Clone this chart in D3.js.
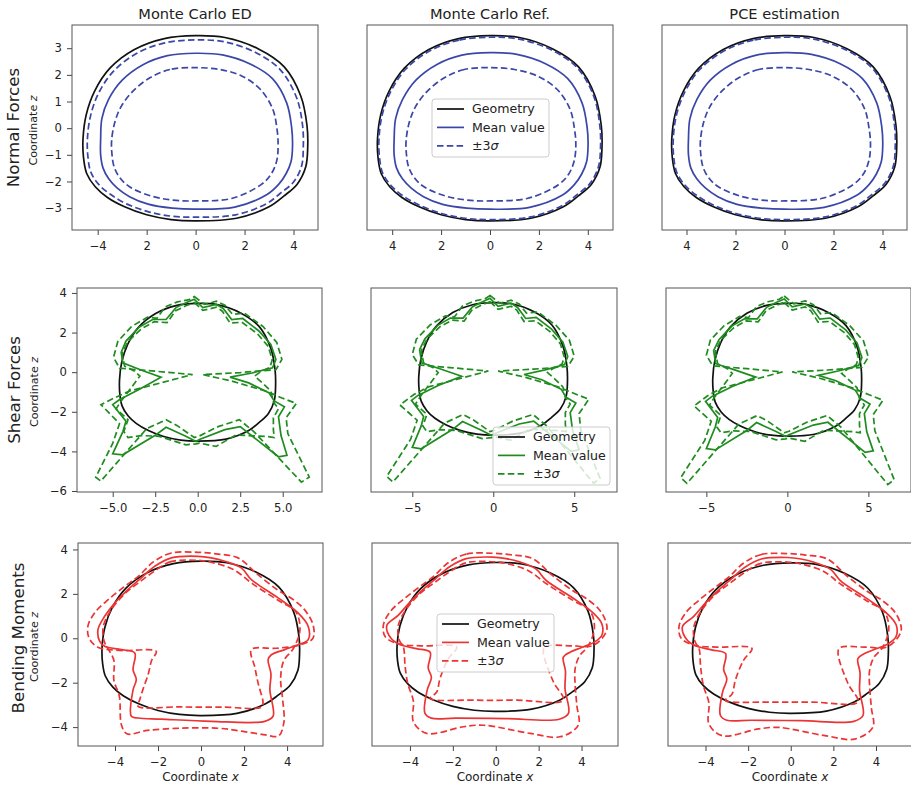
<!DOCTYPE html>
<html>
<head>
<meta charset="utf-8">
<script src="https://cdnjs.cloudflare.com/ajax/libs/d3/7.8.5/d3.min.js"></script>
<style>
  body { margin: 0; background: #fff; }
  text { font-family: "DejaVu Sans", sans-serif; fill: #222; }
</style>
</head>
<body>
<div id="chart"></div>
<script>
// column / row titles
var colTitles = ["Monte Carlo ED", "Monte Carlo Ref.", "PCE estimation"];
var rowTitles = ["Normal Forces", "Shear Forces", "Bending Moments"];
var legendLabels = ["Geometry", "Mean value", "±3"];

// tick values and labels (as printed in the picture)
var xTicksN = [-4, -2, 0, 2, 4];
var xLabelsN_ED = ["−4", "2", "0", "2", "4"];
var xLabelsN_Ref = ["4", "2", "0", "2", "4"];
var xTicksS_ED = [-5, -2.5, 0, 2.5, 5];
var xLabelsS_ED = ["−5.0", "−2.5", "0.0", "2.5", "5.0"];
var xTicksS = [-5, 0, 5];
var xLabelsS = ["−5", "0", "5"];
var xTicksM = [-4, -2, 0, 2, 4];
var xLabelsM = ["−4", "−2", "0", "2", "4"];
var yTicksN = [-3, -2, -1, 0, 1, 2, 3];
var yTicksS = [-6, -4, -2, 0, 2, 4];
var yTicksM = [-4, -2, 0, 2, 4];

// tunnel geometry [x, z]
var geometry = [[0,3.47],[-1.28,3.36],[-2.5,2.95],[-3.5,2.25],[-4.12,1.4],[-4.47,0.5],[-4.6,-0.4],[-4.58,-1.1],
  [-4.45,-1.7],[-4.1,-2.2],[-3.6,-2.6],[-2.9,-2.95],[-2.0,-3.25],[-1,-3.43],[0,-3.48],[1.67,-3.38],[3.0,-2.95],
  [3.6,-2.55],[4.15,-2.1],[4.5,-1.45],[4.58,-0.7],[4.55,0.1],[4.3,1.2],[3.62,2.3],[2.55,2.98],[1.2,3.4]];

// normal forces
var nMeanED = [[0,2.81],[-1.15,2.72],[-2.15,2.38],[-3.0,1.8],[-3.56,1.07],[-3.83,0.36],[-3.88,-0.43],
  [-3.88,-1.0],[-3.78,-1.5],[-3.55,-1.9],[-3.2,-2.25],[-2.7,-2.57],[-1.94,-2.85],[-0.95,-3.0],[0,-3.04],
  [1.6,-2.96],[2.9,-2.5],[3.4,-2.1],[3.7,-1.7],[3.9,-1.25],[3.96,-0.65],[3.92,0.05],[3.72,0.95],[3.15,1.85],
  [2.25,2.4],[1.1,2.75]];
var nLoED = [[0,2.27],[-1.05,2.2],[-1.85,1.9],[-2.55,1.4],[-3.05,0.8],[-3.3,0.22],[-3.43,-0.45],[-3.42,-0.95],
  [-3.33,-1.45],[-3.1,-1.85],[-2.7,-2.2],[-1.8,-2.55],[-0.92,-2.7],[0,-2.73],[1.5,-2.63],[2.7,-2.1],
  [3.1,-1.7],[3.32,-1.2],[3.37,-0.6],[3.32,0],[3.15,0.72],[2.65,1.45],[1.9,1.95],[1.0,2.2]];
var nHiED = [[0,3.31],[-1.25,3.2],[-2.4,2.81],[-3.36,2.13],[-3.96,1.32],[-4.29,0.47],[-4.42,-0.4],[-4.4,-1.07],
  [-4.28,-1.65],[-3.95,-2.12],[-3.45,-2.5],[-2.8,-2.85],[-1.95,-3.13],[-1,-3.3],[0,-3.34],[1.64,-3.25],
  [2.9,-2.83],[3.45,-2.45],[4.0,-2.02],[4.33,-1.42],[4.4,-0.68],[4.37,0.1],[4.13,1.13],[3.48,2.17],[2.47,2.83],
  [1.17,3.24]];
var nMeanRef = [[0,2.83],[-1.15,2.74],[-2.15,2.4],[-3.02,1.81],[-3.58,1.07],[-3.86,0.36],[-3.92,-0.43],
  [-3.92,-1.0],[-3.82,-1.5],[-3.58,-1.9],[-3.22,-2.25],[-2.72,-2.57],[-1.94,-2.86],[-0.95,-3.0],[0,-3.04],
  [1.62,-2.97],[2.95,-2.52],[3.45,-2.12],[3.75,-1.72],[3.95,-1.26],[4.01,-0.65],[3.97,0.05],[3.76,0.96],
  [3.18,1.86],[2.27,2.42],[1.1,2.77]];
var nLoRef = [[0,2.27],[-1.05,2.2],[-1.85,1.9],[-2.55,1.4],[-3.05,0.8],[-3.3,0.22],[-3.43,-0.45],[-3.42,-0.95],
  [-3.33,-1.45],[-3.1,-1.85],[-2.7,-2.2],[-1.8,-2.55],[-0.92,-2.7],[0,-2.73],[1.55,-2.63],[2.8,-2.12],
  [3.22,-1.72],[3.45,-1.2],[3.51,-0.6],[3.45,0],[3.27,0.72],[2.75,1.45],[1.95,1.95],[1.0,2.2]];
var nHiRef = [[0,3.41],[-1.27,3.3],[-2.46,2.9],[-3.45,2.21],[-4.06,1.37],[-4.41,0.49],[-4.54,-0.4],[-4.52,-1.09],
  [-4.39,-1.68],[-4.04,-2.16],[-3.54,-2.55],[-2.86,-2.9],[-1.98,-3.2],[-1,-3.38],[0,-3.43],[1.66,-3.33],
  [2.96,-2.9],[3.55,-2.5],[4.1,-2.06],[4.44,-1.43],[4.52,-0.7],[4.49,0.1],[4.25,1.18],[3.57,2.26],[2.52,2.93],
  [1.19,3.34]];

// shear forces
var sMeanED = [[-0.2,3.68],[0.3,3.26],[1.1,3.42],[1.5,3.22],[2.0,2.66],[2.65,2.71],[3.6,2.08],[4.3,1.4],
  [4.6,0.64],[4.4,0.22],[3.2,-0.04],[1.9,-0.25],[3.0,-0.54],[4.2,-1.05],[4.5,-1.45],[5.1,-1.75],[4.75,-2.25],
  [4.9,-3.2],[5.25,-4.2],[4.75,-4.27],[2.5,-2.75],[1.6,-2.9],[0.1,-3.4],[-0.1,-3.5],[-0.7,-3.24],[-1.86,-2.78],
  [-2.45,-3.16],[-4.41,-4.17],[-5.0,-4.12],[-4.4,-3.0],[-4.22,-2.48],[-5.0,-1.64],[-4.61,-1.39],[-3.4,-0.85],
  [-2.16,-0.25],[-3.3,0.1],[-4.41,0.47],[-4.5,1.0],[-4.22,1.57],[-3.43,2.28],[-2.65,2.66],[-1.86,2.66],
  [-1.28,3.26],[-0.69,3.51]];
var sHiED = [[-0.2,3.82],[0.4,3.42],[1.1,3.58],[1.6,3.38],[2.05,2.92],[2.75,2.98],[3.85,2.3],[4.65,1.5],
  [4.95,0.65],[4.6,0.12],[2.5,-0.02],[0.3,-0.12],[2.0,-0.45],[4.0,-0.95],[4.95,-1.3],[5.8,-1.58],[5.2,-2.3],
  [5.3,-3.1],[6.56,-5.3],[6.1,-5.55],[3.3,-3.0],[2.45,-2.4],[1.2,-2.75],[0.1,-3.22],[-0.2,-3.3],[-1.2,-2.7],
  [-1.86,-2.4],[-3.0,-2.85],[-5.7,-5.5],[-6.0,-5.3],[-5.0,-3.6],[-4.6,-2.6],[-5.69,-1.64],[-4.9,-1.3],
  [-4.0,-0.95],[-0.3,-0.12],[-2.5,0.05],[-4.6,0.2],[-4.95,0.75],[-4.7,1.55],[-3.9,2.3],[-2.95,2.78],
  [-2.4,2.72],[-1.9,3.3],[-1.2,3.55],[-0.5,3.66]];
var sLoED = [[-0.2,3.52],[0.3,3.12],[1.1,3.28],[1.45,3.08],[1.9,2.48],[2.6,2.52],[3.5,1.95],[4.15,1.3],
  [4.38,0.62],[4.25,0.25],[3.7,0.02],[3.35,-0.2],[3.75,-0.5],[4.3,-0.95],[4.45,-1.5],[4.75,-1.85],[4.45,-2.3],
  [4.45,-2.9],[4.5,-3.3],[4.1,-3.25],[2.25,-3.17],[1.08,-3.75],[0.1,-3.58],[-0.1,-3.62],[-0.69,-3.67],
  [-2.26,-3.24],[-3.3,-3.2],[-4.1,-3.3],[-4.35,-3.0],[-4.1,-2.4],[-4.8,-1.85],[-4.5,-1.45],[-4.1,-1.0],
  [-3.4,-0.2],[-3.7,0.05],[-4.3,0.3],[-4.45,0.95],[-4.1,1.55],[-3.3,2.2],[-2.55,2.55],[-1.8,2.5],
  [-1.3,3.1],[-0.7,3.35]];
var sMeanRef = [[-0.2,3.7],[0.3,3.28],[1.1,3.44],[1.5,3.22],[2.0,2.64],[2.65,2.7],[3.6,2.08],[4.3,1.4],
  [4.6,0.64],[4.4,0.22],[3.2,-0.06],[1.9,-0.3],[3.0,-0.58],[4.2,-1.08],[4.5,-1.5],[5.1,-1.8],[4.75,-2.3],
  [4.9,-3.25],[5.3,-4.25],[4.8,-4.33],[2.5,-2.75],[1.6,-2.9],[0.1,-3.4],[-0.1,-3.5],[-0.7,-3.24],[-1.9,-2.77],
  [-2.5,-3.18],[-4.45,-4.2],[-5.0,-4.13],[-4.45,-3.0],[-4.3,-2.5],[-5.05,-1.66],[-4.65,-1.4],[-3.4,-0.88],
  [-1.95,-0.39],[-3.3,0.0],[-4.42,0.31],[-4.55,1.0],[-4.22,1.57],[-3.43,2.28],[-2.65,2.66],[-1.86,2.66],
  [-1.28,3.26],[-0.69,3.51]];
var sHiRef = [[-0.2,3.85],[0.4,3.44],[1.1,3.6],[1.6,3.4],[2.05,2.92],[2.75,2.98],[3.85,2.3],[4.7,1.5],
  [5.0,0.65],[4.6,0.12],[2.5,-0.02],[0.3,-0.12],[2.0,-0.45],[4.0,-0.95],[5.0,-1.3],[5.9,-1.6],[5.3,-2.35],
  [5.4,-3.2],[6.59,-5.75],[6.2,-6.01],[3.3,-3.0],[2.45,-2.4],[1.2,-2.75],[0.1,-3.22],[-0.2,-3.3],[-1.2,-2.7],
  [-1.86,-2.4],[-3.0,-2.85],[-6.2,-5.95],[-6.58,-5.65],[-5.1,-3.7],[-4.7,-2.7],[-5.76,-1.9],[-4.9,-1.35],
  [-4.0,-0.95],[-0.3,-0.12],[-2.5,0.05],[-4.6,0.2],[-5.0,0.75],[-4.75,1.55],[-3.9,2.3],[-2.95,2.78],
  [-2.4,2.72],[-1.9,3.3],[-1.2,3.55],[-0.5,3.68]];
var sLoRef = sLoED;

// bending moments
var mMeanED = [[-0.14,3.69],[-1.38,3.62],[-2.15,3.24],[-2.8,2.7],[-3.4,2.19],[-4.0,1.6],[-4.48,0.99],
  [-4.79,0.39],[-4.71,-0.14],[-4.48,-0.36],[-3.71,-0.51],[-3.08,-0.66],[-3.16,-1.41],[-3.01,-1.86],
  [-3.16,-2.32],[-3.24,-3.51],[-2.93,-3.59],[-1.85,-3.64],[0.48,-3.74],[2.96,-3.74],[3.35,-3.51],
  [3.2,-2.32],[3.25,-1.6],[3.12,-0.96],[3.27,-0.74],[3.89,-0.51],[4.51,-0.29],[4.98,-0.06],[4.98,0.54],
  [4.51,1.14],[3.58,1.82],[2.34,2.64],[1.87,3.17],[1.1,3.47],[0.48,3.62]];
var mHiED = [[-0.14,3.87],[-1.38,3.84],[-2.2,3.45],[-2.9,2.8],[-3.6,2.3],[-4.3,1.75],[-4.9,1.2],[-5.26,0.55],
  [-5.2,0.0],[-4.8,-0.4],[-3.8,-0.55],[-2.08,-0.59],[-2.3,-1.0],[-2.45,-1.6],[-2.7,-2.3],[-2.85,-2.77],
  [-2.93,-3.06],[-1.07,-3.09],[1.0,-3.1],[2.8,-3.1],[2.88,-2.91],[2.65,-2.01],[2.5,-1.3],[2.34,-0.51],
  [3.5,-0.45],[4.6,-0.3],[5.2,0.0],[5.21,0.6],[4.8,1.3],[4.2,1.8],[3.6,2.15],[2.6,2.9],[1.72,3.62],[0.7,3.8]];
var mLoED = [[0,3.5],[-1.4,3.45],[-2.2,3.0],[-2.9,2.5],[-3.5,2.05],[-4.2,1.25],[-4.55,0.5],[-4.5,-0.15],
  [-4.3,-0.5],[-4.05,-1.0],[-4.05,-1.9],[-3.8,-2.6],[-3.7,-3.9],[-3.45,-4.3],[-2.5,-4.15],[-1.0,-4.05],
  [0.8,-4.05],[2.0,-4.2],[3.0,-4.35],[3.6,-4.4],[3.85,-3.8],[3.8,-2.8],[3.7,-1.8],[3.85,-1.0],[4.3,-0.45],
  [4.6,0.4],[4.4,1.2],[3.6,1.7],[2.4,2.45],[1.5,3.1],[0.5,3.42]];
var mMeanRef = [[-0.14,3.72],[-1.38,3.65],[-2.15,3.27],[-2.8,2.72],[-3.4,2.2],[-4.0,1.62],[-4.55,1.0],
  [-5.08,0.53],[-4.9,-0.05],[-4.5,-0.35],[-3.71,-0.55],[-3.06,-0.72],[-3.15,-1.45],[-3.0,-1.9],[-3.2,-2.5],
  [-3.3,-3.58],[-3.0,-3.8],[-1.85,-3.8],[0.48,-3.82],[2.96,-3.85],[3.39,-3.58],[3.23,-2.42],[3.25,-1.6],
  [3.15,-0.95],[3.46,-0.72],[4.0,-0.5],[4.6,-0.25],[4.94,0.06],[4.95,0.6],[4.51,1.14],[3.58,1.82],
  [2.34,2.64],[1.87,3.17],[1.1,3.5],[0.48,3.65]];
var mHiRef = [[-0.14,3.9],[-1.38,3.86],[-2.2,3.47],[-2.9,2.82],[-3.6,2.3],[-4.3,1.75],[-4.9,1.2],[-5.24,0.55],
  [-5.15,0.0],[-4.54,-0.33],[-3.5,-0.42],[-1.82,-0.48],[-2.21,-1.02],[-2.6,-1.95],[-2.75,-2.58],[-3.06,-2.88],
  [-1.0,-2.96],[1.0,-2.96],[3.15,-2.96],[2.69,-2.11],[2.22,-0.72],[2.3,-0.45],[3.5,-0.42],[4.55,-0.4],
  [5.17,0.29],[5.1,0.8],[4.8,1.3],[4.2,1.8],[3.6,2.15],[2.6,2.9],[1.72,3.65],[0.7,3.83]];
var mLoRef = [[0,3.5],[-1.4,3.45],[-2.2,3.0],[-2.9,2.5],[-3.5,2.05],[-4.2,1.25],[-4.55,0.5],[-4.5,-0.15],
  [-4.3,-0.5],[-4.23,-1.33],[-4.1,-2.2],[-3.84,-3.0],[-3.84,-3.97],[-3.22,-4.51],[-1.5,-4.2],[-0.58,-4.13],
  [1.6,-4.51],[3.0,-4.67],[3.85,-4.13],[3.78,-3.2],[3.7,-2.2],[3.7,-1.5],[3.9,-0.9],[4.3,-0.45],[4.6,0.4],
  [4.4,1.2],[3.6,1.7],[2.4,2.45],[1.5,3.1],[0.5,3.42]];

var W = 911, H = 786;
var rowColors = ["#3a46a8", "#1f8c1f", "#ec3434"];
var dash = "6.5,3.3";

// panel layout: box = [left, right, top, bottom] in px
var panels = [
  { row: 0, col: 0, box: [72, 318, 25, 230], xDom: [-5.05, 5.0], zDom: [-3.82, 3.87], xTicks: xTicksN, xLabels: xLabelsN_ED, yTicks: yTicksN, curves: [nMeanED, nLoED, nHiED], smooth: true },
  { row: 0, col: 1, box: [367, 613, 25, 230], xDom: [-5.03, 5.03], zDom: [-3.82, 3.87], xTicks: xTicksN, xLabels: xLabelsN_Ref, curves: [nMeanRef, nLoRef, nHiRef], smooth: true, legend: [432, 99] },
  { row: 0, col: 2, box: [662, 907, 25, 230], xDom: [-5.0, 5.0], zDom: [-3.82, 3.87], xTicks: xTicksN, xLabels: xLabelsN_Ref, curves: [nMeanRef, nLoRef, nHiRef], smooth: true },
  { row: 1, col: 0, box: [77, 322, 288, 492], xDom: [-7.1, 7.31], zDom: [-6.05, 4.25], xTicks: xTicksS_ED, xLabels: xLabelsS_ED, yTicks: yTicksS, curves: [sMeanED, sLoED, sHiED], smooth: false },
  { row: 1, col: 1, box: [371, 617, 288, 492], xDom: [-7.55, 7.64], zDom: [-6.47, 4.24], xTicks: xTicksS, xLabels: xLabelsS, curves: [sMeanRef, sLoRef, sHiRef], smooth: false, legend: [493, 427] },
  { row: 1, col: 2, box: [666, 911, 288, 492], xDom: [-7.49, 7.63], zDom: [-6.4, 4.27], xTicks: xTicksS, xLabels: xLabelsS, curves: [sMeanRef, sLoRef, sHiRef], smooth: false },
  { row: 2, col: 0, box: [78, 323, 543, 746], xDom: [-5.72, 5.67], zDom: [-4.85, 4.29], xTicks: xTicksM, xLabels: xLabelsM, yTicks: yTicksM, curves: [mMeanED, mLoED, mHiED], smooth: true },
  { row: 2, col: 1, box: [372, 618, 543, 746], xDom: [-5.77, 5.7], zDom: [-5.1, 4.38], xTicks: xTicksM, xLabels: xLabelsM, curves: [mMeanRef, mLoRef, mHiRef], smooth: true, legend: [437, 614] },
  { row: 2, col: 2, box: [668, 912, 543, 746], xDom: [-5.76, 5.69], zDom: [-4.99, 4.39], xTicks: xTicksM, xLabels: xLabelsM, curves: [mMeanRef, mLoRef, mHiRef], smooth: true }
];

var rowLabelPos = [[13.5, 127.5, 33, 130.5], [14.5, 390, 34, 392], [18.5, 638, 34, 647]];

document.addEventListener('DOMContentLoaded', function () {
    var svg = d3.select("#chart").append("svg")
        .attr("width", W)
        .attr("height", H);

    panels.forEach(function (p, i) { drawPanel(svg, p, i); });

    // column titles
    colTitles.forEach(function (t, c) {
        var b = panels[c].box;
        svg.append("text")
            .attr("x", (b[0] + b[1]) / 2)
            .attr("y", 19)
            .attr("text-anchor", "middle")
            .style("font-size", "14.6px")
            .text(t);
    });

    // row labels
    rowTitles.forEach(function (t, r) {
        var pos = rowLabelPos[r];
        svg.append("text")
            .attr("transform", "translate(" + pos[0] + "," + pos[1] + ") rotate(-90)")
            .attr("text-anchor", "middle")
            .attr("dy", "0.35em")
            .style("font-size", "16.7px")
            .text(t);
        var yl = svg.append("text")
            .attr("transform", "translate(" + pos[2] + "," + pos[3] + ") rotate(-90)")
            .attr("text-anchor", "middle")
            .attr("dy", "0.35em")
            .style("font-size", "11.1px");
        yl.append("tspan").text("Coordinate ");
        yl.append("tspan").style("font-style", "italic").text("z");
    });

    // x labels on the bottom row
    panels.filter(function (p) { return p.row === 2; }).forEach(function (p) {
        var xl = svg.append("text")
            .attr("x", (p.box[0] + p.box[1]) / 2)
            .attr("y", 781)
            .attr("text-anchor", "middle")
            .style("font-size", "12px");
        xl.append("tspan").text("Coordinate ");
        xl.append("tspan").style("font-style", "italic").text("x");
    });
});

function drawPanel(svg, p, i) {
    var b = p.box;
    var color = rowColors[p.row];
    var x = d3.scaleLinear().domain(p.xDom).range([b[0], b[1]]);
    var y = d3.scaleLinear().domain(p.zDom).range([b[3], b[2]]);

    svg.append("clipPath").attr("id", "clip" + i)
        .append("rect")
        .attr("x", b[0]).attr("y", b[2])
        .attr("width", b[1] - b[0]).attr("height", b[3] - b[2]);

    var g = svg.append("g").attr("clip-path", "url(#clip" + i + ")");

    var smoothLine = d3.line()
        .x(function (d) { return x(d[0]); })
        .y(function (d) { return y(d[1]); })
        .curve(d3.curveCatmullRomClosed.alpha(0.5));
    var dataLine = p.smooth ? smoothLine : d3.line()
        .x(function (d) { return x(d[0]); })
        .y(function (d) { return y(d[1]); })
        .curve(d3.curveLinearClosed);

    g.append("path")
        .attr("d", smoothLine(geometry))
        .attr("fill", "none")
        .attr("stroke", "#111")
        .attr("stroke-width", 1.7);

    g.append("path")
        .attr("d", dataLine(p.curves[0]))
        .attr("fill", "none")
        .attr("stroke", color)
        .attr("stroke-width", 1.7);

    [p.curves[1], p.curves[2]].forEach(function (c) {
        g.append("path")
            .attr("d", dataLine(c))
            .attr("fill", "none")
            .attr("stroke", color)
            .attr("stroke-width", 1.7)
            .attr("stroke-dasharray", dash);
    });

    // x axis
    var xa = svg.append("g")
        .attr("transform", "translate(0," + b[3] + ")")
        .call(d3.axisBottom(x).tickValues(p.xTicks)
            .tickFormat(function (d, k) { return p.xLabels[k]; })
            .tickSize(5).tickPadding(7));
    styleAxis(xa);

    if (p.yTicks) {
        var ya = svg.append("g")
            .attr("transform", "translate(" + b[0] + ",0)")
            .call(d3.axisLeft(y).tickValues(p.yTicks)
                .tickFormat(function (d) { return d < 0 ? "−" + Math.abs(d) : d; })
                .tickSize(5).tickPadding(5));
        styleAxis(ya);
    }

    // frame
    svg.append("rect")
        .attr("x", b[0]).attr("y", b[2])
        .attr("width", b[1] - b[0]).attr("height", b[3] - b[2])
        .attr("fill", "none")
        .attr("stroke", "#555")
        .attr("stroke-width", 1);

    if (p.legend) drawLegend(svg, p.legend, color);
}

function styleAxis(a) {
    a.select(".domain").remove();
    a.selectAll("line").attr("stroke", "#444");
    a.selectAll("text")
        .style("font-family", "DejaVu Sans, sans-serif")
        .style("font-size", "11.6px")
        .attr("fill", "#222");
}

function drawLegend(svg, pos, color) {
    var lg = svg.append("g").attr("transform", "translate(" + pos[0] + "," + pos[1] + ")");
    lg.append("rect")
        .attr("width", 117).attr("height", 58)
        .attr("rx", 3)
        .attr("fill", "white").attr("fill-opacity", 0.8)
        .attr("stroke", "#ccc");
    var styles = [["#111", null], [color, null], [color, dash]];
    legendLabels.forEach(function (t, k) {
        var yy = 10 + k * 18.4;
        lg.append("line")
            .attr("x1", 5).attr("x2", 32)
            .attr("y1", yy).attr("y2", yy)
            .attr("stroke", styles[k][0])
            .attr("stroke-width", 1.7)
            .attr("stroke-dasharray", styles[k][1]);
        var tx = lg.append("text")
            .attr("x", 40).attr("y", yy)
            .attr("dy", "0.35em")
            .style("font-size", "12.6px")
            .text(t);
        if (k === 2) tx.append("tspan").style("font-style", "italic").text("σ");
    });
}
</script>
</body>
</html>
